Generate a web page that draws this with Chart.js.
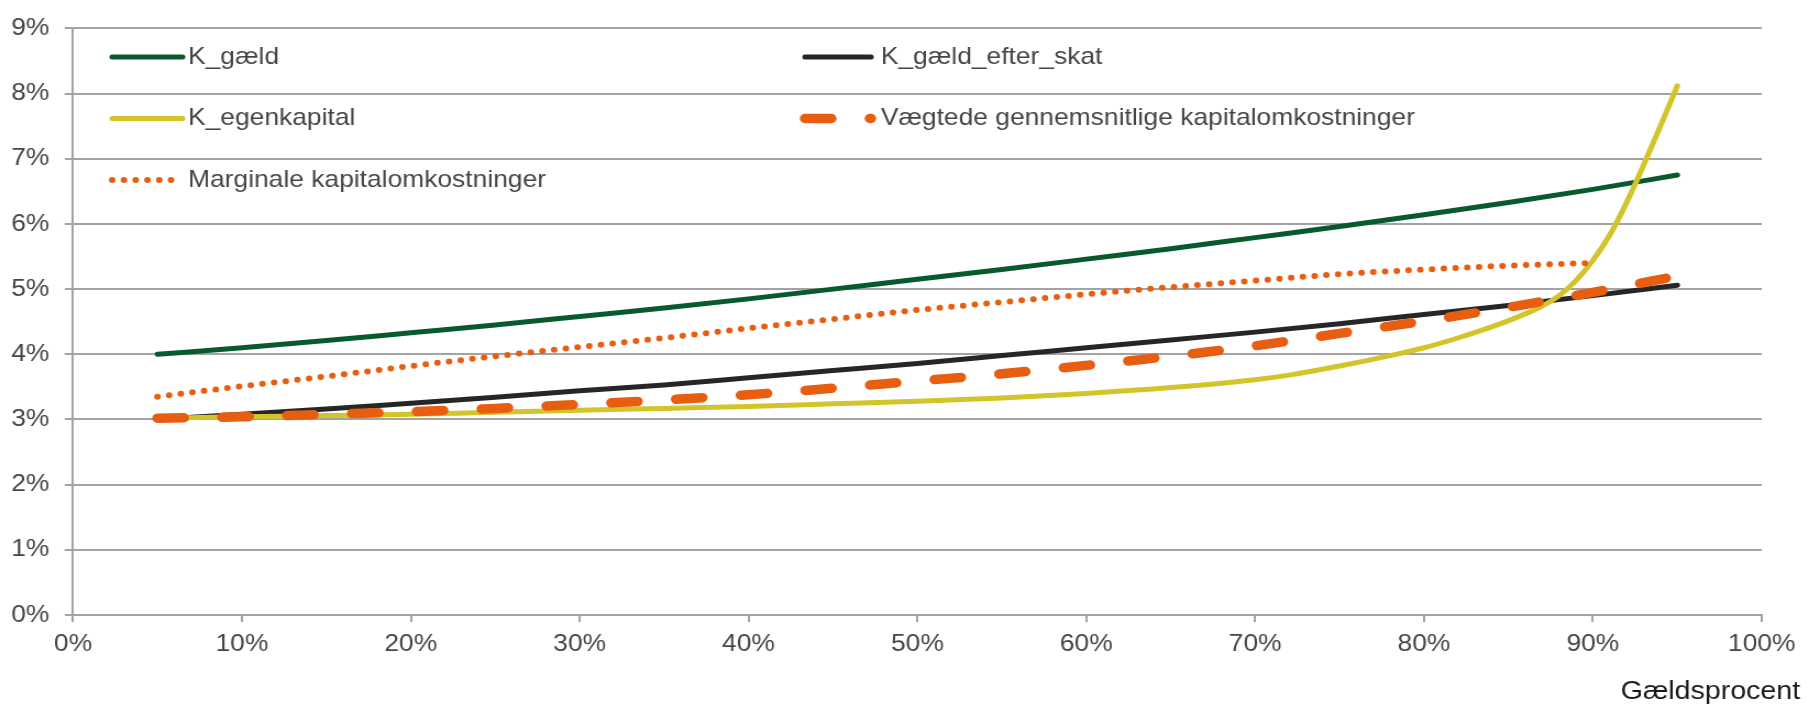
<!DOCTYPE html>
<html lang="da">
<head>
<meta charset="UTF-8">
<title>Kapitalomkostninger</title>
<script src="https://cdn.jsdelivr.net/npm/chart.js"></script>
<style>
    html, body { margin: 0; padding: 0; background: #fff; }
    #chart { display: block; }
</style>
</head>
<body>
<!-- the original is a little wider than its fonts, so the canvas is drawn narrower and stretched -->
<canvas id="chart" width="1655" height="704" style="width:1820px;height:704px"></canvas>
<script>
    // gældsprocent (x-akse) og omkostninger i procent
    let gaeldsprocent = [5, 10, 15, 20, 25, 30, 35, 40, 45, 50, 55, 60, 65, 70, 75, 80, 85, 90, 95];
    let kGaeld = [4.00, 4.10, 4.21, 4.33, 4.45, 4.58, 4.71, 4.85, 5.00, 5.15, 5.30, 5.46, 5.62, 5.79, 5.96, 6.14, 6.33, 6.53, 6.75];
    let kGaeldEfterSkat = [3.00, 3.08, 3.16, 3.25, 3.34, 3.44, 3.53, 3.64, 3.75, 3.86, 3.98, 4.10, 4.22, 4.34, 4.47, 4.61, 4.75, 4.90, 5.06];
    let vaegtede = [3.02, 3.04, 3.08, 3.12, 3.17, 3.23, 3.30, 3.38, 3.48, 3.59, 3.70, 3.83, 3.97, 4.13, 4.32, 4.51, 4.72, 4.95, 5.20];

    let gaeldsprocentEK = [5, 10, 15, 20, 25, 30, 35, 40, 45, 50, 55, 60, 65, 70, 72, 75, 78, 80, 82, 84, 86, 87, 88, 89, 90, 91, 92, 93, 94, 95];
    let kEgenkapital = [3.02, 3.04, 3.06, 3.08, 3.11, 3.14, 3.17, 3.20, 3.24, 3.28, 3.33, 3.40, 3.49, 3.61, 3.68, 3.82, 3.98, 4.10, 4.25, 4.42, 4.62, 4.74, 4.90, 5.13, 5.44, 5.83, 6.33, 6.90, 7.50, 8.12];

    let gaeldsprocentMarg = [5, 10, 15, 20, 25, 30, 35, 40, 45, 50, 55, 60, 65, 70, 75, 80, 85, 90];
    let marginale = [3.35, 3.51, 3.66, 3.82, 3.97, 4.11, 4.25, 4.40, 4.54, 4.68, 4.80, 4.92, 5.03, 5.13, 5.23, 5.30, 5.36, 5.40];

    let xTicks = [0, 10, 20, 30, 40, 50, 60, 70, 80, 90, 100];
    let yTicks = [0, 1, 2, 3, 4, 5, 6, 7, 8, 9];

    function points(xs, ys) {
        return ys.map((y, i) => ({ x: xs[i], y: y }));
    }

    const fontFamily = '"Liberation Sans", Arial, Helvetica, sans-serif';
    const textColor = "#454545";
    const gridColor = "#a3a3a3";

    // legend sits inside the plot in two columns, like the original
    let insideLegend = {
        id: "insideLegend",
        afterDraw(chart) {
            let ctx = chart.ctx;
            let cols = [{ x1: 102, x2: 166, tx: 171 }, { x1: 732, x2: 792, tx: 801 }];
            let rows = [57, 118.5, 180];
            let layout = [[0, 0, 0], [1, 1, 0], [2, 0, 1], [3, 1, 1], [4, 0, 2]];
            ctx.save();
            layout.forEach(([i, c, r]) => {
                let ds = chart.data.datasets[i];
                let col = cols[c];
                let y = rows[r];
                let dotted = ds.borderDash && ds.borderDash[0] === 0;
                ctx.beginPath();
                ctx.strokeStyle = ds.borderColor;
                ctx.lineWidth = ds.borderWidth;
                ctx.lineCap = "round";
                ctx.setLineDash(ds.borderDash || []);
                ctx.moveTo(col.x1, y);
                ctx.lineTo(dotted ? col.x1 + 56 : col.x2, y);
                ctx.stroke();
                ctx.setLineDash([]);
                ctx.fillStyle = textColor;
                ctx.font = "24px " + fontFamily;
                ctx.textAlign = "left";
                ctx.textBaseline = "middle";
                ctx.fillText(ds.label, col.tx, y);
            });
            ctx.font = "26px " + fontFamily;
            ctx.fillStyle = "#1a1a1a";
            ctx.textAlign = "right";
            ctx.textBaseline = "alphabetic";
            ctx.fillText("Gældsprocent", 1637, 699);
            ctx.restore();
        }
    };

    let ctx = document.getElementById("chart").getContext("2d");
    let chart = new Chart(ctx, {
        type: "line",
        data: {
            datasets: [
                {
                    label: "K_gæld",
                    data: points(gaeldsprocent, kGaeld),
                    borderColor: "#08592c",
                    borderWidth: 5,
                    order: 5
                },
                {
                    label: "K_gæld_efter_skat",
                    data: points(gaeldsprocent, kGaeldEfterSkat),
                    borderColor: "#262626",
                    borderWidth: 5,
                    order: 4
                },
                {
                    label: "K_egenkapital",
                    data: points(gaeldsprocentEK, kEgenkapital),
                    borderColor: "#d3c42a",
                    borderWidth: 5,
                    order: 3
                },
                {
                    label: "Vægtede gennemsnitlige kapitalomkostninger",
                    data: points(gaeldsprocent, vaegtede),
                    borderColor: "#e85e10",
                    borderWidth: 9.5,
                    borderDash: [24, 35],
                    order: 2
                },
                {
                    label: "Marginale kapitalomkostninger",
                    data: points(gaeldsprocentMarg, marginale),
                    borderColor: "#e85e10",
                    borderWidth: 6,
                    borderDash: [0, 10.7],
                    order: 1
                }
            ]
        },
        options: {
            responsive: false,
            animation: false,
            devicePixelRatio: 1,
            layout: { padding: { top: 21, right: 53, left: 0, bottom: 0 } },
            elements: {
                point: { radius: 0, hoverRadius: 0 },
                line: { cubicInterpolationMode: "monotone", borderCapStyle: "round", borderJoinStyle: "round", fill: false }
            },
            plugins: {
                legend: { display: false },
                tooltip: { enabled: false }
            },
            scales: {
                x: {
                    type: "linear",
                    min: 0,
                    max: 100,
                    afterBuildTicks: (scale) => { scale.ticks = xTicks.map(v => ({ value: v })); },
                    afterFit: (scale) => { scale.height = 89; },
                    grid: { drawOnChartArea: false, drawTicks: true, tickLength: 7, color: gridColor, lineWidth: 2 },
                    border: { display: true, color: gridColor, width: 2 },
                    ticks: {
                        autoSkip: false,
                        maxRotation: 0,
                        padding: 8,
                        color: textColor,
                        font: { family: fontFamily, size: 24 },
                        callback: (v) => v + "%"
                    }
                },
                y: {
                    min: 0,
                    max: 9,
                    afterBuildTicks: (scale) => { scale.ticks = yTicks.map(v => ({ value: v })); },
                    afterFit: (scale) => { scale.width = 66.4; },
                    grid: { drawTicks: true, tickLength: 7.5, color: gridColor, lineWidth: 2 },
                    border: { display: true, color: gridColor, width: 2 },
                    ticks: {
                        padding: 14,
                        color: textColor,
                        font: { family: fontFamily, size: 24 },
                        callback: (v) => v + "%"
                    }
                }
            }
        },
        plugins: [insideLegend]
    });
</script>
</body>
</html>
